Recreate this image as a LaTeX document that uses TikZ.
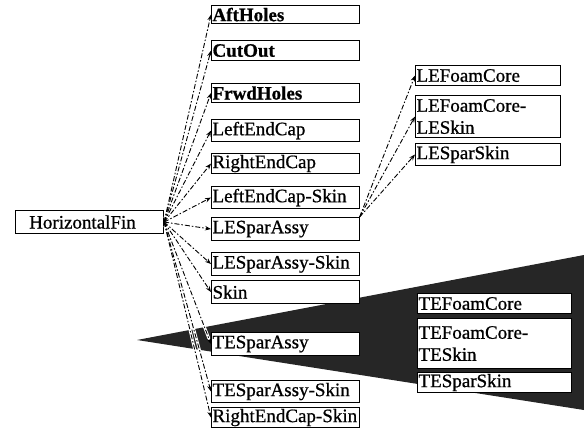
\documentclass[tikz,border=0pt]{standalone}
\usepackage{fontspec}
\setmainfont{Liberation Serif}
\newfontfamily\heavyfont[FakeBold=0.8]{Liberation Serif}
\usetikzlibrary{arrows.meta,backgrounds}
\begin{document}
\begin{tikzpicture}[x=1pt,y=-1pt,
 box/.style={draw, line width=1.1pt, fill=white, anchor=north west, inner xsep=1pt, inner ysep=0pt, align=left, font=\heavyfont\fontsize{19}{22}\selectfont},
 halo/.style={draw=white, line width=2.8pt, shorten >=4pt, shorten <=4pt},
 conn/.style={line width=0.9pt, dash pattern=on 5pt off 2pt on 1.5pt off 2pt, -{Stealth[length=6pt,width=4.5pt]}},
]
\useasboundingbox (0,0) rectangle (584,431);
\begin{pgfonlayer}{background}
\fill[black!85] (137,340) -- (584,255) -- (584,410) -- cycle;
\end{pgfonlayer}
% root
\node[box, text width=146pt, minimum height=23pt] (hf) at (15,210) {\mbox{~~HorizontalFin}};
% left column
\node[box, text width=145.5pt, minimum height=18pt] (aft)   at (211,5)   {\mbox{\textbf{AftHoles}}};
\node[box, text width=145.5pt, minimum height=20pt] (cut)   at (211,40)  {\mbox{\textbf{CutOut}}};
\node[box, text width=145.5pt, minimum height=19pt] (frwd)  at (211,83)  {\mbox{\textbf{FrwdHoles}}};
\node[box, text width=145.5pt, minimum height=22pt] (lec)   at (211,119) {\mbox{LeftEndCap}};
\node[box, text width=145.5pt, minimum height=20pt] (rec)   at (211,153) {\mbox{RightEndCap}};
\node[box, text width=145.5pt, minimum height=22pt] (lecs)  at (211,186) {\mbox{LeftEndCap-Skin}};
\node[box, text width=145.5pt, minimum height=23pt] (lesa)  at (211,217) {\mbox{LESparAssy}};
\node[box, text width=145.5pt, minimum height=23pt] (lesas) at (211,252) {\mbox{LESparAssy-Skin}};
\node[box, text width=145.5pt, minimum height=23pt] (skin)  at (211,280) {\mbox{Skin}};
\node[box, text width=145.5pt, minimum height=23pt] (tesa)  at (211,332) {\mbox{TESparAssy}};
\node[box, text width=145.5pt, minimum height=22pt] (tesas) at (211,380) {\mbox{TESparAssy-Skin}};
\node[box, text width=145.5pt, minimum height=20pt] (recs)  at (211,407) {\mbox{RightEndCap-Skin}};
% LE column
\node[box, text width=143pt, minimum height=20pt] (lefc)  at (415,65)  {\mbox{LEFoamCore}};
\node[box, text width=143pt, minimum height=42pt] (lefcs) at (415,95)  {LEFoamCore-\\LESkin};
\node[box, text width=143pt, minimum height=22pt] (lesps) at (415,143) {\mbox{LESparSkin}};
% TE column
\node[box, text width=152pt, minimum height=20pt] (tefc)  at (417,293) {\mbox{TEFoamCore}};
\node[box, text width=152pt, minimum height=50pt] (tefcs) at (417,318) {TEFoamCore-\\TESkin};
\node[box, text width=152pt, minimum height=20pt] (tesps) at (417,372) {\mbox{TESparSkin}};
% connectors: white halos first, then the dashed lines
\foreach \t in {aft,cut,frwd,lec,rec,lecs,lesa,lesas,skin,tesa,tesas,recs}
  \path[halo] (hf.east) -- (\t.west);
\foreach \t in {aft,cut,frwd,lec,rec,lecs,lesa,lesas,skin,tesa,tesas,recs}
  \draw[conn] (hf.east) -- (\t.west);
\foreach \t in {lefc,lefcs,lesps}
  \draw[conn] (lesa.north east) -- (\t.west);
\end{tikzpicture}
\end{document}
